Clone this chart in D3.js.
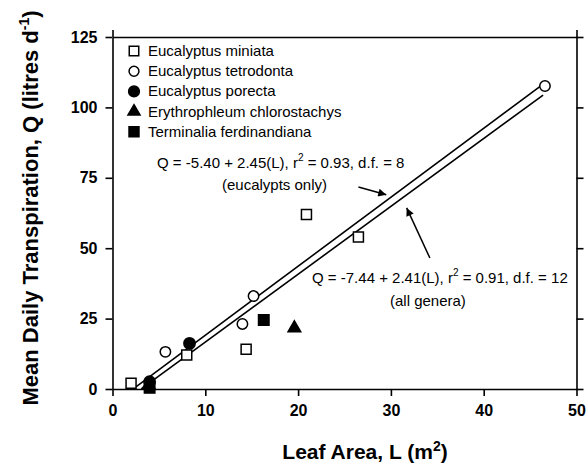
<!DOCTYPE html>
<html>
<head>
<meta charset="utf-8">
<script src="https://cdn.jsdelivr.net/npm/d3@7"></script>
<style>
  body { margin: 0; background: #fff; }
  svg { display: block; font-family: "Liberation Sans", Arial, sans-serif; }
</style>
</head>
<body>
<svg id="chart" width="586" height="465"></svg>
<script>
// leaf area (m2) and transpiration (litres/day) per species
var miniataL = [2.0, 8.0, 14.4, 20.9, 26.5];
var miniataQ = [2.0, 12.1, 14.1, 62.0, 54.0];
var tetrodontaL = [5.7, 14.0, 15.2, 46.6];
var tetrodontaQ = [13.2, 23.1, 33.0, 107.6];
var porectaL = [4.0, 8.3];
var porectaQ = [2.6, 16.2];
var erythroL = [3.9, 19.6];
var erythroQ = [1.4, 21.6];
var terminaliaL = [4.0, 16.3];
var terminaliaQ = [0.4, 24.5];

var species = ["Eucalyptus miniata", "Eucalyptus tetrodonta", "Eucalyptus porecta",
               "Erythrophleum chlorostachys", "Terminalia ferdinandiana"];

// regression fits: intercept, slope, L range of the drawn line
var fitNames = ["eucalypts only", "all genera"];
var fitIntercept = [-5.40, -7.44];
var fitSlope = [2.45, 2.41];
var fitFrom = [2.2, 3.1];
var fitTo = [46.3, 46.4];

var xTicks = [0, 10, 20, 30, 40, 50];
var yTicks = [0, 25, 50, 75, 100, 125];

var margin = {top: 37, right: 9.5, bottom: 76, left: 112.5};
var width = 586 - margin.left - margin.right;
var height = 465 - margin.top - margin.bottom;

var svg = d3.select("svg#chart");
var g = svg.append("g")
  .attr("transform", "translate(" + margin.left + "," + margin.top + ")");

var x = d3.scaleLinear().domain([0, 50]).range([0, width]);
var y = d3.scaleLinear().domain([0, 125]).range([height, 0]);

// axes (ticks point outwards on every side)
var axisLeft = d3.axisLeft(y).tickValues(yTicks).tickSize(7).tickSizeOuter(0).tickPadding(8);
var axisBottom = d3.axisBottom(x).tickValues(xTicks).tickSize(7).tickSizeOuter(0).tickPadding(9);
var axisRight = d3.axisRight(y).tickValues(yTicks).tickSize(7).tickSizeOuter(0).tickFormat("");
var axisTop = d3.axisTop(x).tickValues([0, 50]).tickSize(7).tickSizeOuter(0).tickFormat("");

g.append("g").attr("transform", "translate(0," + height + ")").call(axisBottom);
g.append("g").call(axisLeft);
g.append("g").attr("transform", "translate(" + width + ",0)").call(axisRight);
g.append("g").call(axisTop);

g.selectAll(".domain, .tick line").attr("stroke", "#000").attr("stroke-width", 1.6);
g.selectAll(".tick text")
  .attr("fill", "#000")
  .style("font-family", "'Liberation Sans', Arial, sans-serif")
  .style("font-size", "16px")
  .style("font-weight", "bold");

// axis titles
var xt = svg.append("text")
  .attr("x", 365)
  .attr("y", 459)
  .attr("text-anchor", "middle")
  .style("font-size", "21px")
  .style("font-weight", "bold")
  .text("Leaf Area, L (m");
xt.append("tspan").attr("dy", -8).style("font-size", "14px").text("2");
xt.append("tspan").attr("dy", 8).text(")");

var yt = svg.append("text")
  .attr("transform", "translate(38,208) rotate(-90)")
  .attr("text-anchor", "middle")
  .style("font-size", "22px")
  .style("font-weight", "bold")
  .text("Mean Daily Transpiration, Q (litres d");
yt.append("tspan").attr("dy", -9).style("font-size", "14px").text("-1");
yt.append("tspan").attr("dy", 9).text(")");

// fitted lines
var fits = fitNames.map(function (n, i) {
  return {name: n, a: fitIntercept[i], b: fitSlope[i], from: fitFrom[i], to: fitTo[i]};
});
g.selectAll("line.fit")
  .data(fits)
  .enter()
  .append("line")
  .attr("class", "fit")
  .attr("x1", function (d) { return x(d.from); })
  .attr("y1", function (d) { return y(d.a + d.b * d.from); })
  .attr("x2", function (d) { return x(d.to); })
  .attr("y2", function (d) { return y(d.a + d.b * d.to); })
  .attr("stroke", "#000")
  .attr("stroke-width", 1.6);

// markers
var markers = [
  {type: d3.symbolSquare, size: 100, fill: "#fff"},
  {type: d3.symbolCircle, size: 85, fill: "#fff"},
  {type: d3.symbolCircle, size: 100, fill: "#000"},
  {type: d3.symbolTriangle, size: 70, fill: "#000"},
  {type: d3.symbolSquare, size: 110, fill: "#000"}
];
var seriesL = [miniataL, tetrodontaL, porectaL, erythroL, terminaliaL];
var seriesQ = [miniataQ, tetrodontaQ, porectaQ, erythroQ, terminaliaQ];

species.forEach(function (name, i) {
  var m = markers[i];
  var pts = seriesL[i].map(function (l, j) { return {L: l, Q: seriesQ[i][j]}; });
  g.append("g")
    .selectAll("path")
    .data(pts)
    .enter()
    .append("path")
    .attr("d", d3.symbol().type(m.type).size(m.size))
    .attr("transform", function (d) { return "translate(" + x(d.L) + "," + y(d.Q) + ")"; })
    .attr("fill", m.fill)
    .attr("stroke", "#000")
    .attr("stroke-width", 1.5);
});

// legend
var legend = svg.append("g").attr("transform", "translate(134,51)");
species.forEach(function (name, i) {
  var m = markers[i];
  var row = legend.append("g").attr("transform", "translate(0," + (i * 20.2) + ")");
  row.append("path")
    .attr("d", d3.symbol().type(m.type).size(m.size * 0.9))
    .attr("fill", m.fill)
    .attr("stroke", "#000")
    .attr("stroke-width", 1.5);
  row.append("text")
    .attr("x", 14)
    .attr("y", 5)
    .style("font-size", "15px")
    .text(name);
});

// equation labels
function eqLabel(L, Q, pre, post) {
  var t = g.append("text")
    .attr("x", x(L))
    .attr("y", y(Q))
    .style("font-size", "15px")
    .text(pre);
  t.append("tspan").attr("dy", -7).style("font-size", "10px").text("2");
  t.append("tspan").attr("dy", 7).text(post);
}
eqLabel(4.8, 78.5, "Q = -5.40 + 2.45(L), r", " = 0.93, d.f. = 8");
eqLabel(21.5, 37.6, "Q = -7.44 + 2.41(L), r", " = 0.91, d.f. = 12");

g.append("text").attr("x", x(11.8)).attr("y", y(70.6))
  .style("font-size", "15px").text("(" + fitNames[0] + ")");
g.append("text").attr("x", x(29.9)).attr("y", y(29.5))
  .style("font-size", "15px").text("(" + fitNames[1] + ")");

// arrows pointing at the fits
svg.append("defs").append("marker")
  .attr("id", "head")
  .attr("viewBox", "0 0 10 10")
  .attr("refX", 10)
  .attr("refY", 5)
  .attr("markerWidth", 11)
  .attr("markerHeight", 8)
  .attr("markerUnits", "userSpaceOnUse")
  .attr("orient", "auto")
  .append("path")
  .attr("d", "M0,0L10,5L0,10Z")
  .attr("fill", "#000");

var arrows = [
  {L1: 26.5, Q1: 71.7, L2: 29.5, Q2: 69.0},
  {L1: 34.2, Q1: 46.5, L2: 31.7, Q2: 64.3}
];
g.selectAll("line.arrow")
  .data(arrows)
  .enter()
  .append("line")
  .attr("class", "arrow")
  .attr("x1", function (d) { return x(d.L1); })
  .attr("y1", function (d) { return y(d.Q1); })
  .attr("x2", function (d) { return x(d.L2); })
  .attr("y2", function (d) { return y(d.Q2); })
  .attr("stroke", "#000")
  .attr("stroke-width", 1.5)
  .attr("marker-end", "url(#head)");
</script>
</body>
</html>
